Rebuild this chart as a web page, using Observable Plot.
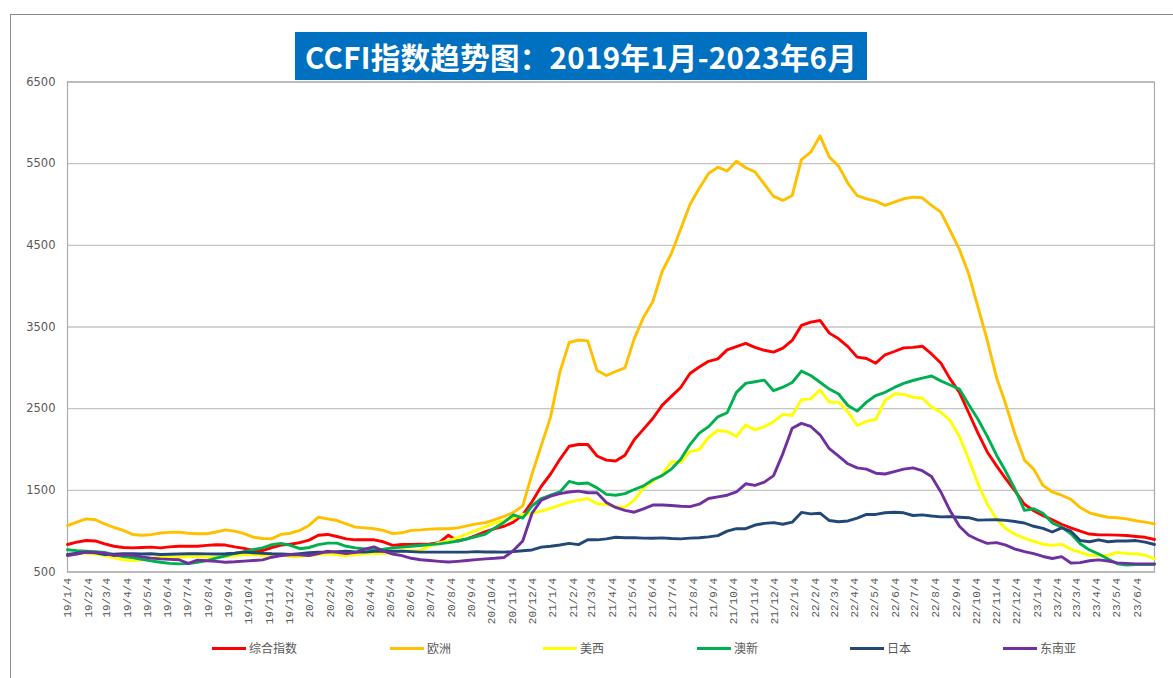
<!DOCTYPE html>
<html>
<head>
<meta charset="utf-8">
<script src="https://cdn.jsdelivr.net/npm/d3@7"></script>
<script src="https://cdn.jsdelivr.net/npm/@observablehq/plot@0.6"></script>
<style>
  html, body { margin: 0; padding: 0; background: #fff; }
  #wrap { position: relative; width: 1173px; height: 678px; overflow: hidden; background: #fff; }
  #frame { position: absolute; left: 10px; top: 14px; width: 1200px; height: 700px;
           border-left: 1.5px solid #8a8a8a; border-top: 1.5px solid #8a8a8a; }
  #chart { position: absolute; left: 0; top: 0; }
  #title { position: absolute; left: 295px; top: 32px; width: 572px; height: 48px;
           background: #0070C0; color: #fff; font-family: "Noto Sans CJK SC", sans-serif;
           font-weight: 700; font-size: 29.5px; letter-spacing: 0.3px; display: flex; align-items: center; justify-content: center;
           white-space: nowrap; }
  .sw { position: absolute; height: 3px; width: 34px; top: 647px; }
  .lt { position: absolute; top: 639px; font-family: "Noto Sans CJK SC", sans-serif; font-size: 12px;
        color: #595959; line-height: 18px; white-space: nowrap; }
</style>
</head>
<body>
<div id="wrap">
  <div id="frame"></div>
  <div id="chart"></div>
  <div id="title">CCFI指数趋势图：2019年1月-2023年6月</div>
  <div id="legend"></div>
</div>
<script>
// ---- data (biweekly readings, first Friday 2019-01-04) ----
const startDate = new Date(Date.UTC(2019, 0, 4));
const stepDays = 14;
const seriesNames = ["综合指数", "欧洲", "美西", "澳新", "日本", "东南亚"];
const seriesColors = ["#FF0000", "#FFC000", "#FFFF00", "#00B050", "#234878", "#7030A0"];

const composite = [837,865,886,880,845,815,800,796,800,804,
796,808,816,816,816,826,833,830,808,790,
763,763,800,830,840,860,890,950,960,935,
905,894,894,894,870,826,837,837,840,845,
860,950,880,905,950,995,1030,1060,1110,1200,
1360,1550,1700,1880,2040,2061,2061,1920,1870,1860,
1930,2120,2250,2380,2540,2650,2760,2930,3010,3080,
3110,3220,3260,3300,3250,3215,3192,3241,3335,3520,
3560,3580,3425,3355,3260,3131,3115,3057,3160,3200,
3245,3250,3265,3170,3060,2865,2700,2450,2200,1970,
1800,1640,1490,1330,1250,1190,1140,1085,1040,1000,
965,955,955,952,947,935,925,898];

const europe = [1069,1110,1150,1140,1090,1045,1010,960,950,958,
978,985,988,975,968,968,990,1016,1000,970,
926,910,908,960,975,1010,1070,1171,1150,1130,
1090,1050,1040,1030,1010,970,980,1010,1016,1025,
1030,1030,1040,1065,1090,1105,1140,1180,1230,1310,
1700,2050,2400,2950,3310,3340,3330,2967,2906,2955,
3000,3355,3620,3810,4180,4400,4700,5000,5200,5380,
5457,5410,5530,5450,5400,5250,5100,5050,5110,5550,
5640,5840,5580,5470,5260,5110,5070,5041,4990,5030,
5070,5090,5082,4990,4906,4682,4450,4150,3743,3335,
2880,2550,2180,1870,1760,1560,1480,1440,1390,1290,
1225,1195,1170,1165,1150,1128,1110,1090];

const usWest = [705,720,731,720,700,675,650,641,650,665,
690,685,680,688,690,682,680,690,700,712,
710,702,705,712,690,690,702,715,723,710,
698,715,723,728,725,740,763,760,765,820,
855,880,920,965,1010,1055,1100,1130,1160,1205,
1220,1245,1280,1320,1355,1380,1400,1335,1325,1300,
1294,1380,1530,1610,1690,1850,1840,1975,2000,2150,
2233,2220,2160,2300,2240,2280,2340,2430,2416,2610,
2620,2731,2580,2580,2460,2294,2345,2370,2600,2682,
2675,2640,2630,2520,2457,2355,2160,1880,1580,1330,
1150,1030,960,915,875,840,826,840,780,740,
705,702,705,740,725,723,705,661];

const ausNz = [772,762,755,748,739,712,690,676,655,636,
620,605,600,602,620,640,670,698,728,750,
775,795,835,850,825,785,800,835,853,853,
815,795,782,772,780,796,804,815,825,835,
845,860,880,905,935,965,1040,1110,1200,1160,
1310,1400,1440,1480,1610,1580,1590,1530,1450,1440,
1460,1510,1555,1630,1680,1760,1880,2060,2200,2280,
2400,2450,2700,2810,2830,2850,2720,2763,2820,2960,
2906,2824,2740,2680,2539,2470,2580,2661,2700,2760,
2810,2845,2875,2900,2840,2790,2740,2550,2370,2160,
1930,1730,1510,1255,1274,1220,1100,1050,968,845,
770,720,660,600,585,590,592,592];

const japan = [714,730,743,735,714,718,723,723,720,723,
714,718,720,723,723,722,720,723,730,743,
735,728,723,722,714,725,735,743,743,750,
755,745,743,752,755,755,755,750,743,743,
743,743,743,743,750,745,745,743,750,760,
770,804,815,830,850,835,894,894,905,926,
920,920,915,914,918,910,905,915,920,930,
945,1000,1030,1030,1075,1095,1105,1085,1110,1230,
1212,1220,1130,1115,1125,1160,1205,1205,1225,1232,
1225,1192,1200,1185,1175,1178,1171,1165,1135,1138,
1140,1132,1118,1100,1060,1035,990,1040,1000,886,
870,894,870,880,880,885,865,837];

const seAsia = [702,720,743,740,731,702,710,705,685,670,
661,655,650,605,645,638,630,620,625,633,
640,649,681,702,712,710,702,725,755,740,
725,740,780,808,755,720,700,668,650,640,
630,622,630,640,652,661,668,678,763,880,
1220,1380,1430,1460,1480,1490,1470,1470,1350,1290,
1255,1232,1274,1320,1320,1314,1305,1300,1330,1400,
1420,1440,1480,1580,1560,1600,1680,1950,2260,2320,
2282,2180,2010,1920,1825,1775,1760,1710,1700,1730,
1760,1775,1740,1670,1480,1250,1060,950,895,850,
860,830,780,750,725,690,665,688,610,615,
638,648,635,612,605,600,600,600];

const yTicks = [500, 1500, 2500, 3500, 4500, 5500, 6500];
const xTickMonths = 54; // monthly labels 19/1/4 ... 23/6/4

// ---- build ----
const seriesValues = [composite, europe, usWest, ausNz, japan, seAsia];
const dates = composite.map((_, i) => d3.utcDay.offset(startDate, stepDays * i));
const xTicks = d3.range(xTickMonths).map(m => new Date(Date.UTC(2019, m, 4)));
const fmtTick = d => `${String(d.getUTCFullYear()).slice(2)}/${d.getUTCMonth() + 1}/${d.getUTCDate()}`;

const table = [];
seriesValues.forEach((vals, s) => vals.forEach((v, i) => table.push({name: seriesNames[s], date: dates[i], value: v})));

const lineMarks = seriesNames.map((name, s) =>
  Plot.line(table.filter(d => d.name === name), {
    x: "date", y: "value", stroke: seriesColors[s], strokeWidth: 2.9,
    strokeLinejoin: "round", strokeLinecap: "round"
  })
);

const chart = Plot.plot({
  width: 1173,
  height: 640,
  marginLeft: 67,
  marginRight: 19,
  marginTop: 81.5,
  marginBottom: 68.5,
  style: {background: "transparent", color: "#595959", fontFamily: "DejaVu Sans, sans-serif"},
  x: {type: "utc", domain: [dates[0], dates[dates.length - 1]]},
  y: {domain: [500, 6500]},
  marks: [
    Plot.gridY(yTicks, {stroke: "#C4C4C4", strokeOpacity: 1, strokeWidth: 1.3}),
    Plot.frame({stroke: "#ABABAB", strokeWidth: 1.2}),
    Plot.axisY(yTicks, {tickSize: 0, tickPadding: 12, label: null, tickFormat: d => String(d),
      fontSize: 11.5, fill: "#595959", fontFamily: "DejaVu Sans, sans-serif"}),
    Plot.axisX(xTicks, {tickSize: 0, tickPadding: 6, tickRotate: -90, tickFormat: fmtTick, label: null,
      fontSize: 11, fill: "#595959", fontFamily: "Liberation Mono, monospace"}),
    ...lineMarks
  ]
});
document.getElementById("chart").appendChild(chart);

// ---- legend ----
const legendLeft = [212, 390, 543, 697, 850, 1003];
const legend = document.getElementById("legend");
seriesNames.forEach((name, s) => {
  const sw = document.createElement("div");
  sw.className = "sw";
  sw.style.left = legendLeft[s] + "px";
  sw.style.background = seriesColors[s];
  legend.appendChild(sw);
  const t = document.createElement("div");
  t.className = "lt";
  t.style.left = (legendLeft[s] + 37) + "px";
  t.textContent = name;
  legend.appendChild(t);
});
</script>
</body>
</html>
